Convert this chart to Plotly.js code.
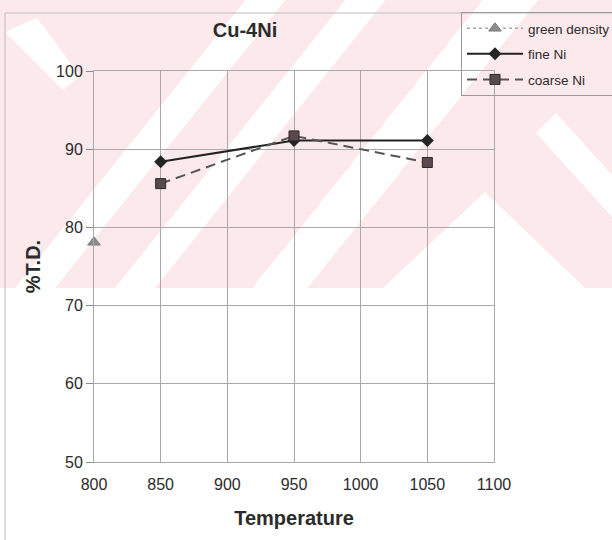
<!DOCTYPE html>
<html>
<head>
<meta charset="utf-8">
<script src="https://cdn.plot.ly/plotly-3.0.1.min.js"></script>
<style>
  html, body { margin: 0; padding: 0; background: #ffffff; }
  #chart { width: 612px; height: 540px; }
</style>
</head>
<body>
<div id="chart"></div>
<script>
// ---- data ----
const seriesNames = ["green density", "fine Ni", "coarse Ni"];
const greenX = [800];
const greenY = [78.1];
const fineX = [850, 950, 1050];
const fineY = [88.4, 91.1, 91.1];
const coarseX = [850, 950, 1050];
const coarseY = [85.6, 91.7, 88.3];
const xTicks = [800, 850, 900, 950, 1000, 1050, 1100];
const yTicks = [50, 60, 70, 80, 90, 100];

// ---- layout geometry (px) ----
const W = 612, H = 540;
const M = { l: 94, r: 118, t: 71, b: 78 };
const PW = W - M.l - M.r, PH = H - M.t - M.b;
const px = x => (x - M.l) / PW;
const py = y => (H - M.b - y) / PH;
function poly(pts) {
  return pts.map((p, i) => (i ? 'L' : 'M') + px(p[0]).toFixed(4) + ',' + py(p[1]).toFixed(4)).join(' ') + ' Z';
}

// background watermark approximation (decoration only)
const PINK = '#fce9ec';
const bandBottom = 288;
const slope = 1.25;
function stripe(xb, w) {
  const d = bandBottom / slope;
  return poly([[xb - w / 2, bandBottom], [xb + w / 2, bandBottom], [xb + w / 2 + d, 0], [xb - w / 2 + d, 0]]);
}
const shapes = [
  { type: 'rect', xref: 'paper', yref: 'paper', x0: px(0), x1: px(W), y0: py(bandBottom), y1: py(0),
    fillcolor: PINK, line: { width: 0 }, layer: 'below' },
  ...[[35, 40], [135, 40], [280, 55]].map(s => ({ type: 'path', xref: 'paper', yref: 'paper', path: stripe(s[0], s[1]),
    fillcolor: '#ffffff', line: { width: 0 }, layer: 'below' })),
  { type: 'path', xref: 'paper', yref: 'paper', path: poly([[383, 288], [485, 192], [585, 288]]),
    fillcolor: '#ffffff', line: { width: 0 }, layer: 'below' },
  { type: 'path', xref: 'paper', yref: 'paper', path: poly([[536, 133], [556, 113], [612, 175], [612, 217]]),
    fillcolor: '#ffffff', line: { width: 0 }, layer: 'below' },
  { type: 'path', xref: 'paper', yref: 'paper', path: poly([[5, 32], [37, 18], [80, 76], [63, 90]]),
    fillcolor: '#ffffff', line: { width: 0 }, layer: 'below' },
  // chart-area frame
  { type: 'rect', xref: 'paper', yref: 'paper', x0: px(5), x1: px(640), y0: py(560), y1: py(13),
    fillcolor: 'rgba(0,0,0,0)', line: { width: 1, color: '#bdbdbd' }, layer: 'below' }
];

const FONT = 'Liberation Sans, Arial, Helvetica, sans-serif';
const TXT = '#2b2b2b';

const traces = [
  { x: greenX, y: greenY, name: seriesNames[0], type: 'scatter', mode: 'lines+markers',
    legendgroup: 'g1', cliponaxis: false,
    line: { color: '#a8a8a8', width: 1.5, dash: 'dot' },
    marker: { symbol: 'triangle-up', size: 11, color: '#8c8c8c', line: { color: '#7a7a7a', width: 1 } } },
  { x: fineX, y: fineY, name: seriesNames[1], type: 'scatter', mode: 'lines+markers',
    legendgroup: 'g2', cliponaxis: false,
    line: { color: '#222222', width: 2 },
    marker: { symbol: 'diamond', size: 10, color: '#252525' } },
  { x: coarseX, y: coarseY, name: seriesNames[2], type: 'scatter', mode: 'lines+markers',
    legendgroup: 'g3', cliponaxis: false,
    line: { color: '#555555', width: 2, dash: '10px,6px' },
    marker: { symbol: 'square', size: 10, color: '#5a4a50', line: { color: '#2a2a2a', width: 1 } } }
];

const layout = {
  width: W, height: H,
  margin: { l: M.l, r: M.r, t: M.t, b: M.b, autoexpand: false },
  paper_bgcolor: '#ffffff',
  plot_bgcolor: 'rgba(0,0,0,0)',
  font: { family: FONT, color: TXT },
  title: { text: '<b>Cu-4Ni</b>', font: { size: 20, family: FONT, color: TXT },
    x: 245 / W, xref: 'container', xanchor: 'center', y: 1 - 30 / H, yref: 'container', yanchor: 'middle' },
  showlegend: true,
  legend: { x: px(461), y: py(12), xanchor: 'left', yanchor: 'top',
    bgcolor: 'rgba(0,0,0,0)', bordercolor: '#9a9a9a', borderwidth: 1,
    font: { size: 13.5, family: FONT, color: TXT },
    itemwidth: 56,
    traceorder: 'grouped', tracegroupgap: 5 },
  xaxis: {
    range: [800, 1100], tickvals: xTicks, ticktext: xTicks.map(String),
    showgrid: true, gridcolor: '#a9a9a9', gridwidth: 1,
    showline: true, linecolor: '#a9a9a9', linewidth: 1, mirror: true,
    zeroline: false, ticks: 'outside', ticklen: 8, tickcolor: 'rgba(0,0,0,0)',
    tickfont: { size: 16, family: FONT, color: TXT },
    title: { text: '<b>Temperature</b>', font: { size: 20, family: FONT, color: TXT }, standoff: 18 },
    automargin: false, fixedrange: true
  },
  yaxis: {
    range: [50, 100], tickvals: yTicks, ticktext: yTicks.map(String),
    showgrid: true, gridcolor: '#a9a9a9', gridwidth: 1,
    showline: true, linecolor: '#a9a9a9', linewidth: 1, mirror: true,
    zeroline: false, ticks: 'outside', ticklen: 7, tickcolor: '#8a8a8a',
    tickfont: { size: 16, family: FONT, color: TXT },
    title: { text: '<b>%T.D.</b>', font: { size: 20, family: FONT, color: TXT }, standoff: 10 },
    automargin: false, fixedrange: true
  },
  shapes: shapes
};

Plotly.newPlot('chart', traces, layout, { staticPlot: true, displayModeBar: false });
</script>
</body>
</html>
